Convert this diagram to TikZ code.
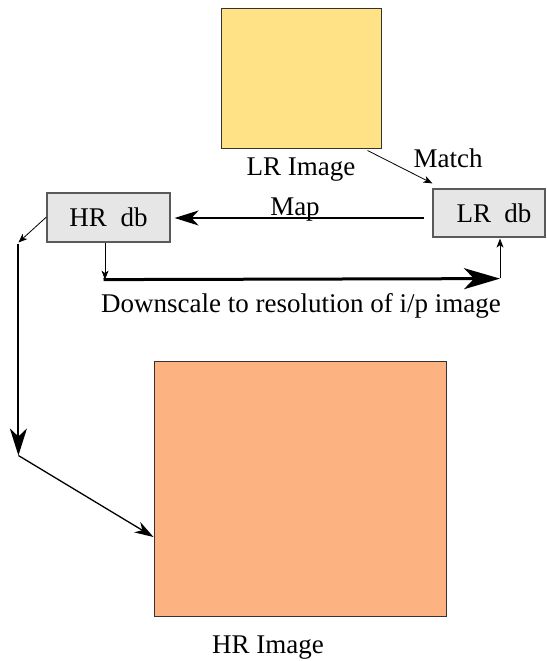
\documentclass[tikz,border=0pt]{standalone}
\usepackage{fontspec}
\setmainfont{Liberation Serif}
\usetikzlibrary{arrows.meta,calc}
\definecolor{lrfill}{HTML}{FFE285}
\definecolor{hrfill}{HTML}{FDB282}
\definecolor{dbfill}{HTML}{E6E6E6}
\definecolor{dbline}{HTML}{5A5A5A}
\definecolor{imgline}{HTML}{333333}
\begin{document}
\begin{tikzpicture}[x=1pt,y=-1pt,
  every node/.style={font=\fontsize{27pt}{32pt}\selectfont},
  imgbox/.style={draw=imgline,line width=1pt,inner sep=0pt},
  dbbox/.style={draw=dbline,fill=dbfill,line width=1.2pt,inner sep=0pt},
  txt/.style={inner sep=0pt,anchor=base},
  thinarrow/.style={line width=0.8pt,-{Stealth[length=9pt,width=7pt,inset=2.5pt]}},
  maparrow/.style={line width=1.8pt,-{Stealth[length=24pt,width=15pt,inset=7pt]}},
  downarrow/.style={line width=3pt,-{Stealth[length=36pt,width=21pt,inset=10pt]}},
  vertarrow/.style={line width=2pt,-{Stealth[length=27pt,width=17pt,inset=8pt]}},
  outarrow/.style={line width=1.3pt,-{Stealth[length=19pt,width=12pt,inset=6pt]}}]
\useasboundingbox (0,0) rectangle (546,661);

% images
\node[imgbox,fill=lrfill,minimum width=160pt,minimum height=139pt] (LRimg) at (301,78.5) {};
\node[imgbox,fill=hrfill,minimum width=292pt,minimum height=255pt] (HRimg) at (300,488.5) {};

% databases
\node[dbbox,minimum width=123pt,minimum height=49pt] (HRdb) at (108.5,217.5) {HR\ \ db};
\node[dbbox,minimum width=112pt,minimum height=48pt] (LRdb) at (489,213) {\hspace*{10pt}LR\ \ db};

% labels
\node[txt] (LRlab) at (301,175) {LR Image};
\node[txt] (HRlab) at (268,653) {HR Image};
\node[txt] (matchlab) at (448,167) {Match};
\node[txt] (maplab) at (295,215) {Map};
\node[txt] (downlab) at (301,312) {Downscale to resolution of i/p image};

% route points
\coordinate (d1) at ($(HRdb.south)+(-3.5,37)$);
\coordinate (d2) at ($(LRdb.south)+(11,41)$);
\coordinate (v1) at ($(HRdb.west)+(-28,25)$);
\coordinate (v2) at ($(v1)+(0,213)$);

% connectors
\draw[thinarrow] ($(LRimg.south east)+(-14,2)$) -- ($(LRdb.north west)+(0,-5)$);
\draw[maparrow] ($(LRdb.west)+(-8,5)$) -- ($(HRdb.east)+(4,0.5)$);
\draw[thinarrow] (HRdb.south -| d1) -- (d1);
\draw[downarrow] ($(d1)+(-1.5,0)$) -- (d2);
\draw[thinarrow] ($(d2)+(0,-0.5)$) -- ($(LRdb.south)+(11,1)$);
\draw[thinarrow] ($(HRdb.west)+(0,-0.5)$) -- (v1);
\draw[vertarrow] ($(v1)+(0,1)$) -- (v2);
\draw[outarrow] (v2) -- ($(HRimg.west)+(0,48.5)$);
\end{tikzpicture}
\end{document}
